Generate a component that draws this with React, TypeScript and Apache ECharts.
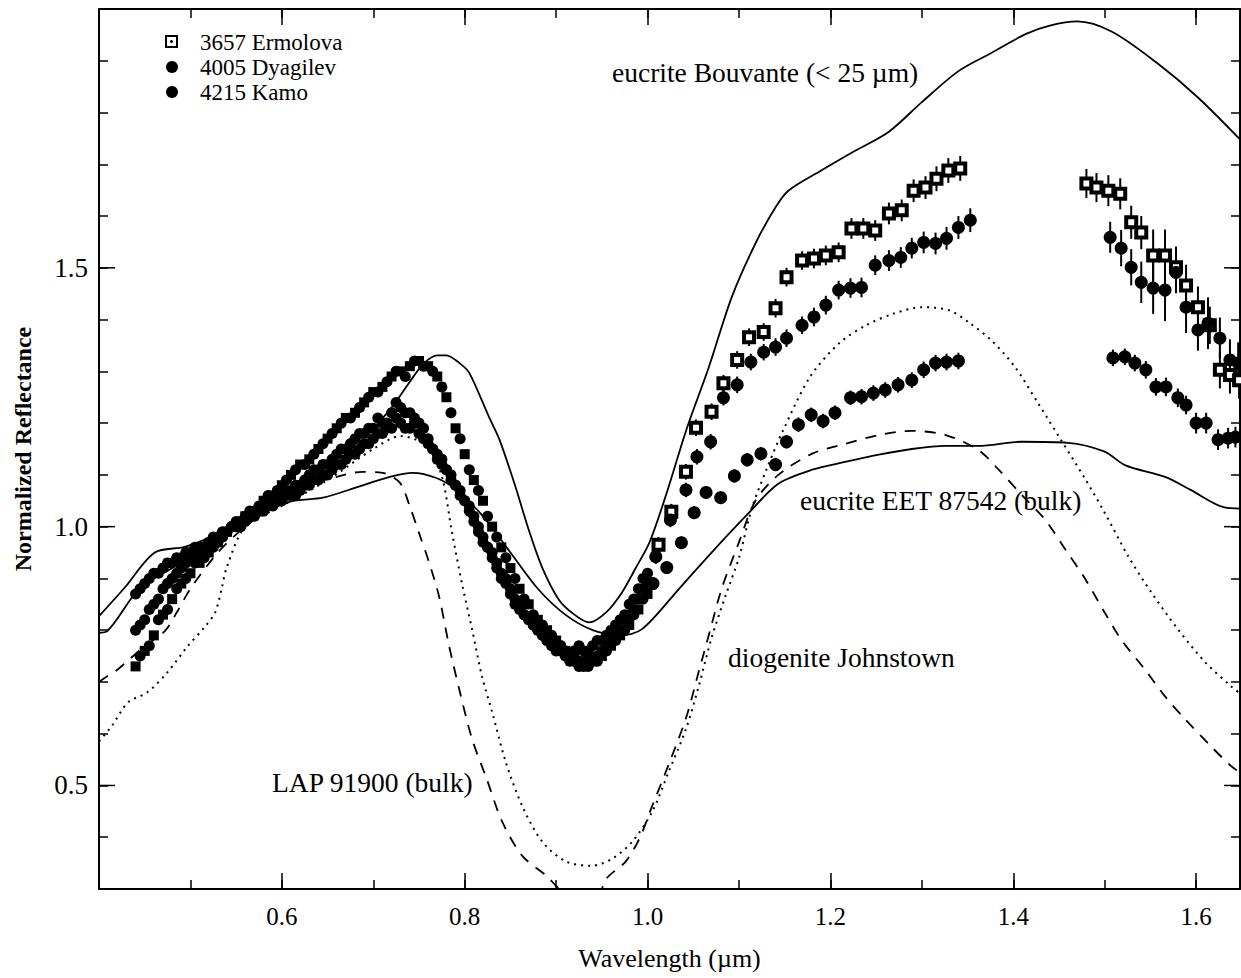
import React, { useEffect, useRef } from "react";
import * as echarts from "echarts";

// ---------- visible-range asteroid spectra (dense cloud) ----------
const visWavelength = [
  0.44, 0.45, 0.46, 0.47, 0.48, 0.49, 0.50, 0.51, 0.52, 0.53,
  0.54, 0.55, 0.56, 0.57, 0.58, 0.59, 0.60, 0.61, 0.62, 0.63,
  0.64, 0.65, 0.66, 0.67, 0.68, 0.69, 0.70, 0.71, 0.72, 0.73,
  0.74, 0.75, 0.76, 0.77, 0.78, 0.79, 0.80, 0.81, 0.82, 0.83,
  0.84, 0.85, 0.86, 0.87, 0.88, 0.89, 0.90, 0.91, 0.92, 0.93,
  0.94, 0.95, 0.96, 0.97, 0.98, 0.99, 1.00,
];
const ermolovaVis = [
  0.73, 0.76, 0.79, 0.83, 0.86, 0.89, 0.91, 0.93, 0.95, 0.97,
  0.99, 1.00, 1.02, 1.03, 1.05, 1.06, 1.08, 1.10, 1.12, 1.13,
  1.15, 1.17, 1.19, 1.21, 1.22, 1.24, 1.26, 1.27, 1.29, 1.30,
  1.31, 1.32, 1.31, 1.29, 1.25, 1.19, 1.14, 1.09, 1.05, 1.00,
  0.96, 0.92, 0.88, 0.85, 0.82, 0.80, 0.78, 0.76, 0.75, 0.74,
  0.74, 0.75, 0.77, 0.79, 0.81, 0.84, 0.87,
];
const dyagilevVis = [
  0.87, 0.89, 0.91, 0.92, 0.93, 0.94, 0.95, 0.96, 0.97, 0.98,
  0.99, 1.01, 1.02, 1.02, 1.03, 1.04, 1.05, 1.06, 1.07, 1.08,
  1.09, 1.10, 1.12, 1.13, 1.14, 1.16, 1.17, 1.18, 1.19, 1.20,
  1.19, 1.18, 1.16, 1.13, 1.11, 1.08, 1.05, 1.01, 0.97, 0.94,
  0.90, 0.87, 0.84, 0.82, 0.80, 0.78, 0.77, 0.76, 0.76, 0.76,
  0.77, 0.78, 0.80, 0.82, 0.85, 0.88, 0.91,
];
const kamoVis = [
  0.80, 0.82, 0.85, 0.88, 0.90, 0.92, 0.94, 0.95, 0.96, 0.97,
  0.99, 1.00, 1.01, 1.03, 1.04, 1.05, 1.06, 1.07, 1.08, 1.10,
  1.11, 1.12, 1.14, 1.15, 1.17, 1.18, 1.19, 1.20, 1.22, 1.23,
  1.22, 1.20, 1.17, 1.14, 1.11, 1.08, 1.05, 1.02, 0.98, 0.95,
  0.91, 0.88, 0.85, 0.82, 0.80, 0.78, 0.76, 0.75, 0.74, 0.73,
  0.74, 0.76, 0.78, 0.80, 0.83, 0.86, 0.89,
];
// second, interleaved set of visible-range readings
const visWavelength2 = [
  0.445, 0.455, 0.465, 0.475, 0.485, 0.495, 0.505, 0.515, 0.525, 0.535,
  0.545, 0.555, 0.565, 0.575, 0.585, 0.595, 0.605, 0.615, 0.625, 0.635,
  0.645, 0.655, 0.665, 0.675, 0.685, 0.695, 0.705, 0.715, 0.725, 0.735,
  0.745, 0.755, 0.765, 0.775, 0.785, 0.795, 0.805, 0.815, 0.825, 0.835,
  0.845, 0.855, 0.865, 0.875, 0.885, 0.895, 0.905, 0.915, 0.925, 0.935,
  0.945, 0.955, 0.965, 0.975, 0.985, 0.995,
];
const ermolovaVis2 = [
  0.75, 0.77, 0.82, 0.84, 0.88, 0.90, 0.93, 0.94, 0.96, 0.98,
  1.00, 1.01, 1.03, 1.04, 1.06, 1.07, 1.09, 1.11, 1.12, 1.14,
  1.16, 1.18, 1.20, 1.21, 1.23, 1.25, 1.26, 1.28, 1.30, 1.29,
  1.32, 1.31, 1.30, 1.27, 1.22, 1.17, 1.11, 1.07, 1.02, 0.98,
  0.94, 0.90, 0.86, 0.83, 0.81, 0.79, 0.77, 0.75, 0.73, 0.75,
  0.74, 0.76, 0.78, 0.80, 0.83, 0.86,
];
const dyagilevVis2 = [
  0.88, 0.90, 0.91, 0.93, 0.94, 0.95, 0.96, 0.96, 0.98, 0.99,
  1.00, 1.01, 1.02, 1.03, 1.04, 1.05, 1.06, 1.06, 1.08, 1.09,
  1.10, 1.11, 1.12, 1.14, 1.15, 1.16, 1.18, 1.19, 1.21, 1.19,
  1.20, 1.17, 1.15, 1.12, 1.09, 1.07, 1.03, 0.99, 0.96, 0.92,
  0.89, 0.85, 0.83, 0.81, 0.79, 0.78, 0.77, 0.75, 0.77, 0.76,
  0.78, 0.79, 0.81, 0.83, 0.86, 0.90,
];
const kamoVis2 = [
  0.81, 0.84, 0.86, 0.89, 0.91, 0.93, 0.94, 0.96, 0.97, 0.98,
  1.00, 1.00, 1.02, 1.03, 1.05, 1.06, 1.07, 1.08, 1.09, 1.11,
  1.12, 1.13, 1.15, 1.16, 1.18, 1.19, 1.21, 1.20, 1.24, 1.22,
  1.21, 1.19, 1.15, 1.13, 1.10, 1.06, 1.04, 1.00, 0.96, 0.93,
  0.90, 0.86, 0.83, 0.81, 0.79, 0.77, 0.76, 0.74, 0.74, 0.73,
  0.75, 0.77, 0.79, 0.82, 0.84, 0.88,
];

// ---------- near-IR asteroid spectra ----------
const ermolovaIrX = [1.012, 1.026, 1.042, 1.053, 1.070, 1.083, 1.098, 1.111, 1.127, 1.140, 1.152, 1.169, 1.182, 1.195, 1.209, 1.223, 1.236, 1.249, 1.264, 1.278, 1.291, 1.304, 1.316, 1.329, 1.342,
  1.480, 1.491, 1.504, 1.517, 1.529, 1.540, 1.553, 1.566, 1.578, 1.589, 1.602, 1.615, 1.626, 1.637, 1.647];
const ermolovaIrY = [0.965, 1.029, 1.106, 1.191, 1.222, 1.277, 1.322, 1.366, 1.376, 1.422, 1.482, 1.514, 1.518, 1.524, 1.530, 1.576, 1.576, 1.572, 1.605, 1.611, 1.649, 1.655, 1.672, 1.688, 1.692,
  1.663, 1.655, 1.649, 1.643, 1.588, 1.568, 1.524, 1.524, 1.501, 1.466, 1.424, 1.389, 1.303, 1.293, 1.283];
const ermolovaIrErr = [0.015, 0.015, 0.015, 0.016, 0.016, 0.016, 0.017, 0.017, 0.017, 0.018, 0.018, 0.018, 0.019, 0.019, 0.019, 0.020, 0.020, 0.020, 0.021, 0.021, 0.022, 0.022, 0.024, 0.024, 0.024,
  0.028, 0.028, 0.030, 0.030, 0.032, 0.032, 0.050, 0.050, 0.040, 0.040, 0.040, 0.036, 0.036, 0.036, 0.036];

const dyagilevIrX = [1.009, 1.025, 1.042, 1.054, 1.069, 1.083, 1.098, 1.113, 1.127, 1.140, 1.152, 1.169, 1.182, 1.195, 1.209, 1.222, 1.234, 1.249, 1.264, 1.277, 1.289, 1.302, 1.315, 1.327, 1.340, 1.353,
  1.506, 1.518, 1.529, 1.540, 1.553, 1.566, 1.578, 1.589, 1.602, 1.613, 1.626, 1.637, 1.646];
const dyagilevIrY = [0.942, 1.013, 1.071, 1.135, 1.164, 1.249, 1.274, 1.318, 1.337, 1.347, 1.364, 1.389, 1.405, 1.428, 1.457, 1.461, 1.462, 1.505, 1.514, 1.520, 1.538, 1.549, 1.547, 1.557, 1.578, 1.592,
  1.559, 1.538, 1.501, 1.472, 1.461, 1.457, 1.491, 1.424, 1.380, 1.393, 1.364, 1.322, 1.316];
const dyagilevIrErr = [0.014, 0.014, 0.014, 0.015, 0.015, 0.015, 0.016, 0.016, 0.016, 0.017, 0.017, 0.017, 0.018, 0.018, 0.018, 0.019, 0.019, 0.019, 0.020, 0.020, 0.020, 0.021, 0.021, 0.022, 0.022, 0.023,
  0.030, 0.035, 0.035, 0.040, 0.050, 0.060, 0.040, 0.050, 0.040, 0.050, 0.040, 0.040, 0.040];

const kamoIrX = [1.006, 1.021, 1.037, 1.051, 1.064, 1.080, 1.095, 1.109, 1.124, 1.140, 1.152, 1.165, 1.179, 1.192, 1.205, 1.222, 1.234, 1.247, 1.260, 1.274, 1.289, 1.302, 1.315, 1.327, 1.340,
  1.509, 1.522, 1.533, 1.545, 1.556, 1.567, 1.580, 1.589, 1.600, 1.611, 1.624, 1.635, 1.643];
const kamoIrY = [0.890, 0.921, 0.969, 1.027, 1.066, 1.056, 1.098, 1.129, 1.141, 1.120, 1.164, 1.197, 1.216, 1.204, 1.220, 1.249, 1.251, 1.258, 1.264, 1.274, 1.283, 1.303, 1.316, 1.318, 1.320,
  1.326, 1.328, 1.316, 1.303, 1.270, 1.270, 1.249, 1.235, 1.200, 1.200, 1.168, 1.171, 1.173];
const kamoIrErr = [0.012, 0.012, 0.012, 0.012, 0.012, 0.012, 0.013, 0.013, 0.013, 0.013, 0.013, 0.014, 0.014, 0.014, 0.014, 0.014, 0.015, 0.015, 0.015, 0.015, 0.015, 0.016, 0.016, 0.016, 0.016,
  0.016, 0.016, 0.016, 0.017, 0.017, 0.018, 0.018, 0.018, 0.020, 0.020, 0.020, 0.020, 0.020];

// ---------- laboratory meteorite spectra ----------
const bouvanteX = [0.400, 0.428, 0.461, 0.494, 0.530, 0.560, 0.600, 0.630, 0.660, 0.690, 0.720, 0.740, 0.755, 0.770, 0.780, 0.795, 0.805, 0.827, 0.838, 0.855, 0.870, 0.885, 0.903, 0.920, 0.936, 0.955, 0.972, 0.987, 1.002, 1.020, 1.043, 1.067, 1.092, 1.118, 1.140, 1.154, 1.190, 1.227, 1.264, 1.300, 1.340, 1.376, 1.414, 1.440, 1.470, 1.508, 1.557, 1.602, 1.648];
const bouvanteY = [0.827, 0.882, 0.950, 0.961, 0.985, 1.010, 1.050, 1.080, 1.120, 1.170, 1.230, 1.280, 1.315, 1.331, 1.331, 1.315, 1.297, 1.210, 1.168, 1.080, 0.994, 0.920, 0.859, 0.830, 0.815, 0.835, 0.873, 0.920, 0.969, 1.060, 1.190, 1.308, 1.443, 1.547, 1.617, 1.649, 1.688, 1.726, 1.763, 1.820, 1.880, 1.915, 1.952, 1.968, 1.976, 1.956, 1.896, 1.829, 1.748];

const eetX = [0.400, 0.409, 0.445, 0.480, 0.520, 0.560, 0.608, 0.645, 0.680, 0.718, 0.743, 0.769, 0.791, 0.820, 0.850, 0.880, 0.910, 0.940, 0.970, 0.994, 1.034, 1.070, 1.111, 1.143, 1.180, 1.216, 1.253, 1.289, 1.326, 1.362, 1.409, 1.460, 1.500, 1.522, 1.566, 1.594, 1.631, 1.648];
const eetY = [0.795, 0.798, 0.882, 0.920, 0.970, 1.010, 1.048, 1.056, 1.075, 1.096, 1.104, 1.094, 1.071, 1.020, 0.950, 0.880, 0.830, 0.800, 0.790, 0.802, 0.879, 0.950, 1.027, 1.083, 1.110, 1.125, 1.139, 1.150, 1.156, 1.156, 1.164, 1.162, 1.145, 1.119, 1.096, 1.071, 1.037, 1.035];

const johnstownX = [0.400, 0.414, 0.432, 0.453, 0.475, 0.497, 0.516, 0.527, 0.534, 0.540, 0.560, 0.600, 0.650, 0.700, 0.730, 0.754, 0.765, 0.776, 0.786, 0.797, 0.808, 0.819, 0.830, 0.845, 0.863, 0.885, 0.911, 0.939, 0.961, 0.983, 1.005, 1.023, 1.042, 1.056, 1.070, 1.086, 1.100, 1.114, 1.130, 1.148, 1.178, 1.210, 1.240, 1.270, 1.300, 1.330, 1.351, 1.376, 1.402, 1.427, 1.452, 1.479, 1.500, 1.526, 1.551, 1.580, 1.610, 1.638, 1.648];
const johnstownY = [0.585, 0.615, 0.661, 0.680, 0.719, 0.769, 0.807, 0.834, 0.879, 0.923, 1.000, 1.040, 1.090, 1.150, 1.175, 1.162, 1.140, 1.091, 0.990, 0.890, 0.802, 0.710, 0.642, 0.545, 0.460, 0.391, 0.353, 0.345, 0.358, 0.391, 0.449, 0.526, 0.609, 0.692, 0.785, 0.870, 0.940, 1.035, 1.110, 1.185, 1.290, 1.355, 1.390, 1.412, 1.424, 1.418, 1.395, 1.360, 1.308, 1.239, 1.168, 1.091, 1.027, 0.942, 0.873, 0.802, 0.738, 0.692, 0.678];

const lapX = [0.400, 0.409, 0.417, 0.450, 0.472, 0.485, 0.500, 0.530, 0.560, 0.600, 0.630, 0.660, 0.688, 0.710, 0.729, 0.740, 0.750, 0.761, 0.772, 0.783, 0.794, 0.808, 0.824, 0.841, 0.863, 0.889, 0.900, 0.915, 0.930, 0.945, 0.955, 0.976, 0.991, 1.005, 1.023, 1.042, 1.056, 1.070, 1.081, 1.100, 1.118, 1.143, 1.180, 1.216, 1.253, 1.289, 1.326, 1.362, 1.384, 1.410, 1.435, 1.457, 1.479, 1.500, 1.518, 1.544, 1.566, 1.588, 1.616, 1.638, 1.648];
const lapY = [0.700, 0.711, 0.719, 0.769, 0.798, 0.834, 0.880, 0.950, 1.000, 1.050, 1.080, 1.096, 1.106, 1.104, 1.085, 1.039, 0.988, 0.931, 0.865, 0.769, 0.686, 0.590, 0.513, 0.430, 0.364, 0.326, 0.306, 0.280, 0.270, 0.280, 0.320, 0.353, 0.397, 0.460, 0.540, 0.630, 0.720, 0.810, 0.880, 0.970, 1.050, 1.100, 1.141, 1.160, 1.177, 1.185, 1.177, 1.148, 1.110, 1.060, 1.013, 0.956, 0.898, 0.834, 0.782, 0.724, 0.672, 0.628, 0.576, 0.538, 0.525];

// ---------- axes ----------
const xMin = 0.4;
const xMax = 1.648;
const yMin = 0.3;
const yMax = 2.0;
const yMajorTicks = [0.5, 1.0, 1.5];

const SERIF = "'Liberation Serif', 'DejaVu Serif', serif";

const zip = (xs: number[], ys: number[]) => xs.map((x, i) => [x, ys[i]]);
const zip3 = (xs: number[], ys: number[], es: number[]) => xs.map((x, i) => [x, ys[i], es[i]]);

export default function App() {
  const ref = useRef<HTMLDivElement>(null);

  useEffect(() => {
    if (!ref.current) return;
    const chart = echarts.init(ref.current, undefined, { renderer: "svg" });

    const errorBarSeries = (data: number[][]) => ({
      type: "custom",
      silent: true,
      z: 3,
      clip: true,
      encode: { x: 0, y: 1 },
      data,
      renderItem: (_p: any, api: any) => {
        const x = api.value(0);
        const y = api.value(1);
        const e = api.value(2);
        const a = api.coord([x, y + e]);
        const b = api.coord([x, y - e]);
        return {
          type: "line",
          shape: { x1: a[0], y1: a[1], x2: b[0], y2: b[1] },
          style: { stroke: "#000", lineWidth: 2 },
        };
      },
    });

    const lineSeries = (name: string, xs: number[], ys: number[], type: any, width: number) => ({
      name,
      type: "line",
      data: zip(xs, ys),
      showSymbol: false,
      symbol: "none",
      smooth: 0.3,
      clip: true,
      z: 2,
      lineStyle: { color: "#000", width, type, opacity: 1 },
    });

    const scatter = (name: string, xs: number[], ys: number[], symbol: string, size: number, style: any) => ({
      name,
      type: "scatter",
      z: 4,
      data: zip(xs, ys),
      symbol,
      symbolSize: size,
      itemStyle: { opacity: 1, ...style },
    });

    const black = { color: "#000" };

    const option: any = {
      animation: false,
      backgroundColor: "#fff",
      grid: { left: 99, right: 1, top: 9, bottom: 89, containLabel: false },
      xAxis: [
        {
          type: "value", min: xMin, max: xMax, interval: 0.2, position: "bottom",
          name: "Wavelength (µm)", nameLocation: "middle", nameGap: 56,
          nameTextStyle: { fontFamily: SERIF, fontSize: 26, color: "#000" },
          axisLine: { show: true, lineStyle: { color: "#000", width: 2 } },
          axisTick: { show: true, inside: true, length: 16, lineStyle: { color: "#000", width: 1.5 } },
          axisLabel: {
            showMinLabel: false, showMaxLabel: false, margin: 15,
            fontFamily: SERIF, fontSize: 25, color: "#000",
            formatter: (v: number) => v.toFixed(1),
          },
          splitLine: { show: false },
        },
        {
          type: "value", min: xMin, max: xMax, interval: 0.1, position: "bottom",
          axisLine: { show: false },
          axisTick: { show: true, inside: true, length: 9, lineStyle: { color: "#000", width: 1.5 } },
          axisLabel: { show: false },
          splitLine: { show: false },
        },
        {
          type: "value", min: xMin, max: xMax, interval: 0.2, position: "top",
          axisLine: { show: true, onZero: false, lineStyle: { color: "#000", width: 2 } },
          axisTick: { show: true, inside: true, length: 16, lineStyle: { color: "#000", width: 1.5 } },
          axisLabel: { show: false },
          splitLine: { show: false },
        },
        {
          type: "value", min: xMin, max: xMax, interval: 0.1, position: "top",
          axisLine: { show: false },
          axisTick: { show: true, inside: true, length: 9, lineStyle: { color: "#000", width: 1.5 } },
          axisLabel: { show: false },
          splitLine: { show: false },
        },
      ],
      yAxis: [
        {
          type: "value", min: yMin, max: yMax, interval: 0.1, position: "left",
          name: "Normalized Reflectance", nameLocation: "middle", nameGap: 64,
          nameTextStyle: { fontFamily: SERIF, fontSize: 24, fontWeight: "bold", color: "#000" },
          axisLine: { show: true, onZero: false, lineStyle: { color: "#000", width: 2 } },
          axisTick: { show: true, inside: true, length: 9, lineStyle: { color: "#000", width: 1.5 } },
          axisLabel: {
            margin: 11, fontFamily: SERIF, fontSize: 27, color: "#000",
            formatter: (v: number) => {
              const k = Math.round(v * 10);
              return k % 5 === 0 && k >= 5 && k <= 15 ? (k / 10).toFixed(1) : "";
            },
          },
          splitLine: { show: false },
        },
        {
          type: "value", min: yMin, max: yMax, interval: 0.1, position: "right",
          axisLine: { show: true, onZero: false, lineStyle: { color: "#000", width: 2 } },
          axisTick: { show: true, inside: true, length: 9, lineStyle: { color: "#000", width: 1.5 } },
          axisLabel: { show: false },
          splitLine: { show: false },
        },
      ],
      series: [
        lineSeries("eucrite Bouvante (< 25 µm)", bouvanteX, bouvanteY, "solid", 1.8),
        lineSeries("eucrite EET 87542 (bulk)", eetX, eetY, "solid", 1.8),
        lineSeries("diogenite Johnstown", johnstownX, johnstownY, [2, 5], 2),
        lineSeries("LAP 91900 (bulk)", lapX, lapY, [11, 9], 1.8),
        {
          type: "custom", silent: true, z: 5, clip: false,
          data: yMajorTicks.map((v) => [v]),
          renderItem: (params: any, api: any) => {
            const cs = params.coordSys;
            const y = api.coord([xMin, api.value(0)])[1];
            return {
              type: "group",
              children: [
                { type: "line", shape: { x1: cs.x, y1: y, x2: cs.x + 16, y2: y }, style: { stroke: "#000", lineWidth: 1.5 } },
                { type: "line", shape: { x1: cs.x + cs.width - 16, y1: y, x2: cs.x + cs.width, y2: y }, style: { stroke: "#000", lineWidth: 1.5 } },
              ],
            };
          },
        },
        errorBarSeries(zip3(ermolovaIrX, ermolovaIrY, ermolovaIrErr)),
        errorBarSeries(zip3(dyagilevIrX, dyagilevIrY, dyagilevIrErr)),
        errorBarSeries(zip3(kamoIrX, kamoIrY, kamoIrErr)),
        scatter("3657 Ermolova", visWavelength, ermolovaVis, "rect", 10, black),
        scatter("3657 Ermolova", visWavelength2, ermolovaVis2, "circle", 11, black),
        scatter("4005 Dyagilev", visWavelength, dyagilevVis, "circle", 11, black),
        scatter("4005 Dyagilev", visWavelength2, dyagilevVis2, "circle", 11, black),
        scatter("4215 Kamo", visWavelength, kamoVis, "circle", 11, black),
        scatter("4215 Kamo", visWavelength2, kamoVis2, "circle", 11, black),
        scatter("3657 Ermolova", ermolovaIrX, ermolovaIrY, "rect", 10, { color: "#fff", borderColor: "#000", borderWidth: 4 }),
        scatter("4005 Dyagilev", dyagilevIrX, dyagilevIrY, "circle", 13, black),
        scatter("4215 Kamo", kamoIrX, kamoIrY, "circle", 13, black),
      ],
      graphic: [
        { type: "rect", shape: { x: 166, y: 36, width: 11, height: 11 }, style: { fill: "#fff", stroke: "#000", lineWidth: 2 } },
        { type: "circle", shape: { cx: 171.5, cy: 41.5, r: 1.5 }, style: { fill: "#000" } },
        { type: "circle", shape: { cx: 172, cy: 67, r: 6 }, style: { fill: "#000" } },
        { type: "circle", shape: { cx: 172, cy: 92, r: 6 }, style: { fill: "#000" } },
        { type: "text", x: 200, y: 42, style: { text: "3657 Ermolova", font: `23px ${SERIF}`, fill: "#000", verticalAlign: "middle" } },
        { type: "text", x: 200, y: 67, style: { text: "4005 Dyagilev", font: `23px ${SERIF}`, fill: "#000", verticalAlign: "middle" } },
        { type: "text", x: 200, y: 92, style: { text: "4215 Kamo", font: `23px ${SERIF}`, fill: "#000", verticalAlign: "middle" } },
        { type: "text", x: 612, y: 72, style: { text: "eucrite Bouvante (< 25 µm)", font: `27.5px ${SERIF}`, fill: "#000", verticalAlign: "middle" } },
        { type: "text", x: 800, y: 500, style: { text: "eucrite EET 87542 (bulk)", font: `27.5px ${SERIF}`, fill: "#000", verticalAlign: "middle" } },
        { type: "text", x: 728, y: 657, style: { text: "diogenite Johnstown", font: `27.5px ${SERIF}`, fill: "#000", verticalAlign: "middle" } },
        { type: "text", x: 272, y: 782, style: { text: "LAP 91900 (bulk)", font: `27.5px ${SERIF}`, fill: "#000", verticalAlign: "middle" } },
      ],
    };

    chart.setOption(option);
    return () => chart.dispose();
  }, []);

  return (
    <div
      ref={ref}
      style={{ position: "fixed", left: 0, top: 0, width: 1241, height: 978, background: "#fff" }}
    />
  );
}
